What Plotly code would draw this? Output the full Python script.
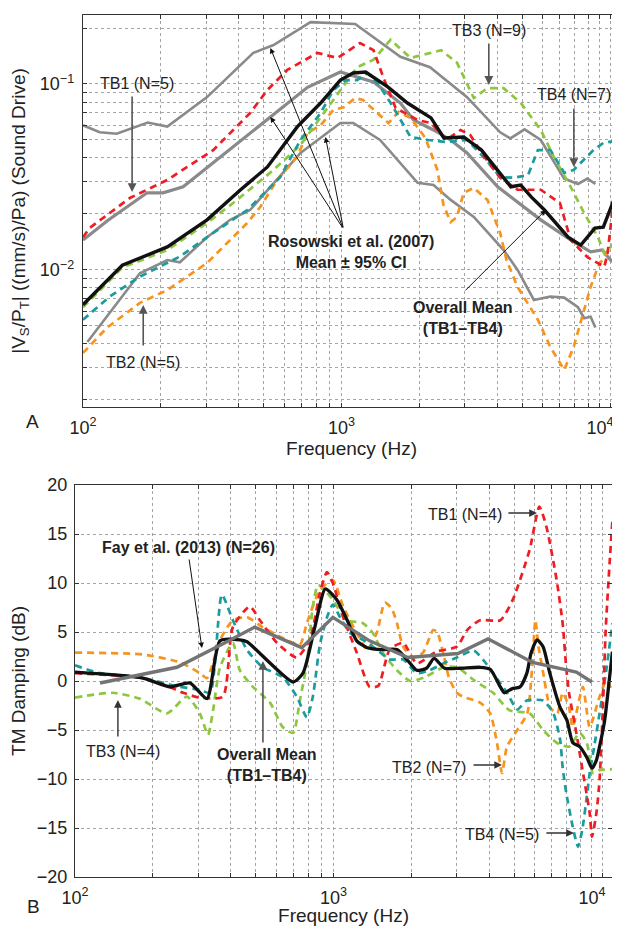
import plotly.graph_objects as go

# ---------------- Panel A : sound drive magnitude ----------------
ros_upper_f = [100, 116, 135, 178, 212, 302, 456, 546, 759, 1130, 1690, 2200, 3060, 4110, 4500, 5110, 5900, 7270, 8220, 8950, 9600]
ros_upper_v = [0.060, 0.055, 0.054, 0.062, 0.059, 0.085, 0.147, 0.162, 0.215, 0.210, 0.140, 0.123, 0.085, 0.055, 0.051, 0.057, 0.050, 0.031, 0.029, 0.031, 0.029]

ros_mean_f = [100, 125, 177, 204, 244, 381, 546, 739, 990, 1330, 1690, 1900, 2270, 2645, 3060, 4020, 5900, 7700, 9200, 10200, 11000, 12000]
ros_mean_v = [0.0145, 0.0185, 0.026, 0.026, 0.028, 0.0458, 0.068, 0.096, 0.116, 0.1025, 0.079, 0.064, 0.0566, 0.050, 0.0426, 0.028, 0.0186, 0.0145, 0.0125, 0.0128, 0.0113, 0.0103]

ros_lower_f = [104, 166, 212, 237, 302, 371, 443, 694, 990, 1110, 1410, 1970, 2270, 2645, 3250, 4240, 4800, 5550, 6430, 7270, 8220, 8690, 9200, 9600]
ros_lower_v = [0.0041, 0.0096, 0.0113, 0.0110, 0.0150, 0.0186, 0.021, 0.0426, 0.0617, 0.0617, 0.050, 0.0294, 0.0286, 0.0238, 0.0193, 0.0128, 0.0100, 0.0069, 0.0072, 0.0071, 0.0063, 0.0055, 0.0056, 0.0049]

tb1_a_f = [100, 106, 152, 212, 319, 443, 517, 617, 808, 965, 1180, 1330, 1450, 1620, 1970, 2220, 2540, 2890, 3150, 3480, 4110, 4800, 5900, 7000, 7700, 8950, 10400, 10700, 11300, 12000]
tb1_a_v = [0.015, 0.0168, 0.0244, 0.0305, 0.0441, 0.0698, 0.0929, 0.119, 0.147, 0.138, 0.166, 0.152, 0.109, 0.0743, 0.064, 0.0617, 0.050, 0.0566, 0.0532, 0.0426, 0.0313, 0.027, 0.027, 0.0229, 0.0145, 0.0117, 0.0104, 0.0123, 0.0238, 0.0458]

tb2_a_f = [100, 124, 166, 212, 302, 432, 485, 564, 674, 739, 830, 930, 1020, 1130, 1210, 1360, 1520, 1660, 1850, 2110, 2350, 2480, 2645, 2800, 2970, 3250, 3670, 4110, 4350, 4800, 5750, 6430, 7270, 7910, 8430, 9200, 9820, 11000, 12000]
tb2_a_v = [0.00358, 0.0049, 0.00665, 0.0078, 0.0109, 0.0179, 0.0218, 0.0305, 0.0406, 0.0546, 0.060, 0.0725, 0.075, 0.084, 0.082, 0.0707, 0.0617, 0.0707, 0.0657, 0.0513, 0.0345, 0.0224, 0.0181, 0.0193, 0.026, 0.0276, 0.0238, 0.0158, 0.0113, 0.0081, 0.0054, 0.00385, 0.0029, 0.00385, 0.0052, 0.0081, 0.0104, 0.0133, 0.014]

tb3_a_f = [100, 142, 212, 302, 381, 546, 694, 930, 1060, 1150, 1330, 1550, 1850, 2430, 2800, 3250, 3670, 4240, 4940, 5900, 6630, 7700, 8690, 9820, 10400, 11000, 12000]
tb3_a_v = [0.0063, 0.0103, 0.0128, 0.0179, 0.0229, 0.0345, 0.047, 0.082, 0.105, 0.123, 0.135, 0.173, 0.138, 0.152, 0.130, 0.084, 0.095, 0.095, 0.079, 0.0566, 0.0406, 0.028, 0.0202, 0.015, 0.0123, 0.0133, 0.0158]

tb4_a_f = [100, 127, 166, 237, 310, 432, 580, 694, 830, 930, 1040, 1150, 1260, 1380, 1550, 1690, 1850, 2160, 2540, 3060, 3540, 4110, 4650, 5270, 5750, 6430, 7270, 7910, 9440, 10300, 12000]
tb4_a_v = [0.0054, 0.0072, 0.0092, 0.0118, 0.0154, 0.021, 0.0316, 0.050, 0.0698, 0.0929, 0.105, 0.105, 0.1146, 0.101, 0.079, 0.064, 0.0519, 0.050, 0.0488, 0.050, 0.0406, 0.0316, 0.0313, 0.0324, 0.0441, 0.0441, 0.0333, 0.0345, 0.0441, 0.0482, 0.050]

mean_a_f = [100, 142, 212, 302, 406, 517, 674, 830, 990, 1110, 1240, 1510, 1800, 2220, 2490, 2970, 3480, 4020, 4520, 4940, 5420, 6100, 7530, 8430, 9560, 10300, 12000]
mean_a_v = [0.0065, 0.0106, 0.0133, 0.0186, 0.0269, 0.0358, 0.0588, 0.079, 0.105, 0.1146, 0.116, 0.0964, 0.079, 0.0657, 0.0513, 0.0519, 0.0441, 0.0345, 0.028, 0.0286, 0.0247, 0.021, 0.015, 0.0136, 0.0168, 0.017, 0.0294]

# ---------------- Panel B : TM damping ----------------
fay_f = [125, 248, 387, 496, 754, 995, 1380, 1940, 3030, 3960, 5890, 8700, 10000]
fay_v = [-0.2, 1.4, 4.0, 5.5, 3.4, 6.5, 4.1, 2.4, 2.8, 4.3, 1.9, 0.9, -0.1]

mean_b_f = [100, 183, 233, 278, 324, 364, 434, 463, 697, 762, 847, 930, 1030, 1130, 1230, 1350, 1550, 1760, 1980, 2100, 2290, 2450, 2690, 3080, 3690, 4040, 4420, 4580, 4900, 5270, 5600, 5820, 6130, 6470, 6870, 7530, 8000, 8430, 8960, 9550, 10000, 10400, 10700, 11200, 11700, 12000]
mean_b_v = [0.9, 0.3, -0.6, -0.2, -1.8, 4.1, 4.2, 4.0, -0.1, 0.8, 5.5, 9.4, 8.3, 6.2, 4.1, 3.4, 3.2, 3.2, 1.8, 1.1, 1.3, 2.3, 1.3, 1.3, 1.4, 1.2, -0.6, -1.2, -0.8, -0.6, 0.8, 2.9, 4.2, 3.5, 0.8, -2.7, -4.0, -6.3, -6.7, -7.8, -8.9, -8.1, -6.7, -4.0, 0.4, 3.0]

tb1_b_f = [100, 183, 227, 262, 304, 373, 408, 475, 519, 604, 721, 810, 886, 944, 994, 1090, 1230, 1380, 1490, 1650, 1860, 2100, 2500, 3000, 3290, 3690, 4420, 4940, 5740, 6260, 6670, 7300, 7700, 7950, 8150, 8700, 9100, 9800, 10000, 10400, 10700, 11000, 11300, 11700, 12000]
tb1_b_v = [0.8, 0.3, -0.5, -1.2, -1.7, -1.6, 5.5, 7.6, 6.2, 3.9, 2.4, 4.2, 9.0, 11.1, 10.0, 6.5, 2.9, -0.6, -0.5, 3.2, 3.9, 1.8, 3.0, 3.5, 5.2, 6.2, 6.2, 8.3, 13.4, 17.8, 15.7, 10.3, 5.9, 1.4, -1.2, -5.3, -8.4, -13.5, -15.9, -13.5, -10.1, -3.3, 5.2, 12.0, 16.4]

tb2_b_f = [100, 183, 255, 304, 324, 364, 408, 463, 532, 636, 741, 789, 886, 994, 1090, 1230, 1350, 1470, 1580, 1680, 1760, 1860, 2030, 2220, 2430, 2520, 2670, 2800, 3000, 3170, 3690, 4040, 4290, 4490, 4690, 5140, 5620, 5870, 6040, 6210, 6480, 6890, 7340, 7700, 8150, 8420, 9220, 9800, 10700, 11400, 12000]
tb2_b_v = [2.9, 2.7, 1.9, 0.8, 0.3, 4.2, 6.2, 6.5, 5.5, 4.4, 3.7, 5.9, 9.3, 10.3, 7.6, 4.9, 3.2, 4.9, 8.0, 7.4, 5.9, 3.5, 2.4, 2.9, 5.2, 5.0, 2.6, 0.3, -1.2, -1.6, -2.2, -3.3, -6.3, -9.4, -6.7, -5.0, -3.3, 1.4, 6.2, 3.5, 0.8, -2.7, -3.3, -1.2, -2.7, -4.7, -0.6, -4.7, -1.6, 0.1, -1.2]

tb3_b_f = [100, 140, 178, 227, 271, 304, 327, 342, 364, 408, 434, 488, 568, 636, 698, 741, 789, 832, 872, 973, 1130, 1300, 1420, 1550, 1760, 1980, 2260, 2670, 3000, 3490, 4140, 4800, 5740, 6470, 7300, 8150, 8960, 9550, 10100, 10700, 12000]
tb3_b_v = [-1.7, -1.2, -1.8, -3.3, -1.6, -3.3, -5.5, -3.0, 1.4, 3.9, 1.1, -0.6, -2.2, -4.7, -5.3, -2.0, 1.8, 7.6, 9.8, 8.6, 6.2, 5.9, 4.9, 2.9, 1.1, 0.0, 0.4, 1.4, 1.4, 0.1, -1.2, -3.0, -3.3, -5.0, -6.3, -6.7, -5.3, -6.3, -9.4, -9.1, -9.0]

tb4_b_f = [100, 125, 178, 244, 304, 333, 370, 408, 462, 532, 636, 721, 789, 832, 886, 944, 994, 1060, 1160, 1300, 1470, 1650, 1860, 2100, 2360, 2660, 3000, 3490, 3810, 4330, 4690, 5140, 5600, 6480, 7090, 7530, 7700, 7950, 8430, 8830, 9170, 9550, 9800, 10200, 10700, 11400, 12000]
tb4_b_v = [1.6, 0.8, 0.4, -0.5, -0.9, -1.2, 8.8, 6.2, 3.2, 1.4, 0.4, -1.6, -3.7, -1.6, 3.7, 6.5, 7.8, 6.5, 4.9, 4.2, 3.2, 2.2, 2.2, 0.8, 1.1, 1.8, 2.4, 3.1, 2.1, 0.1, -1.2, -2.9, -2.0, -2.0, -3.3, -6.0, -8.8, -11.4, -14.9, -16.9, -15.2, -11.8, -9.4, -6.7, -3.3, 1.4, 5.9]

# tick positions / labels
freq_ticks = [100 * k for k in range(1, 10)] + [1000 * k for k in range(1, 10)] + [10000, 11000]
freq_labels = {100: "10<sup>2</sup>", 1000: "10<sup>3</sup>", 10000: "10<sup>4</sup>"}
mag_ticks = [0.001 * k for k in range(2, 10)] + [0.01 * k for k in range(1, 10)] + [0.1, 0.2]
mag_labels = {0.01: "10<sup>\u22122</sup>", 0.1: "10<sup>\u22121</sup>"}
db_ticks = [-20, -15, -10, -5, 0, 5, 10, 15, 20]

RED = "#EE1D24"
ORANGE = "#F7941D"
GREEN = "#8DC63F"
TEAL = "#1A9C9C"
GRAY = "#8A8A8A"
DASH = "7px,5px"

# The page body adds an 8px margin, so the figure is drawn 8px in from the
# top-left of the window; layout geometry below is expressed in window pixels.
OFF = 8
W, H = 620 - OFF, 926 - OFF


def dx(px):
    return (px - OFF) / W


def dy(py):
    return 1 - (py - OFF) / H


fig = go.Figure()


def add(f, v, color, width, dash, xa, ya, shape="linear"):
    fig.add_trace(go.Scatter(
        x=f, y=v, mode="lines", xaxis=xa, yaxis=ya, showlegend=False,
        hoverinfo="skip",
        line=dict(color=color, width=width, dash=dash, shape=shape,
                  smoothing=0.6 if shape == "spline" else None)))


# Panel A
add(ros_upper_f, ros_upper_v, GRAY, 2.6, "solid", "x", "y")
add(ros_mean_f, ros_mean_v, GRAY, 3.2, "solid", "x", "y")
add(ros_lower_f, ros_lower_v, GRAY, 2.6, "solid", "x", "y")
add(tb2_a_f, tb2_a_v, ORANGE, 2.7, DASH, "x", "y")
add(tb3_a_f, tb3_a_v, GREEN, 2.7, DASH, "x", "y")
add(tb4_a_f, tb4_a_v, TEAL, 2.7, DASH, "x", "y")
add(tb1_a_f, tb1_a_v, RED, 2.7, DASH, "x", "y")
add(mean_a_f, mean_a_v, "#111111", 3.4, "solid", "x", "y")

# Panel B
add(tb2_b_f, tb2_b_v, ORANGE, 2.7, DASH, "x2", "y2", "spline")
add(tb3_b_f, tb3_b_v, GREEN, 2.7, DASH, "x2", "y2", "spline")
add(tb4_b_f, tb4_b_v, TEAL, 2.7, DASH, "x2", "y2", "spline")
add(tb1_b_f, tb1_b_v, RED, 2.7, DASH, "x2", "y2", "spline")
add(mean_b_f, mean_b_v, "#111111", 3.3, "solid", "x2", "y2", "spline")
add(fay_f, fay_v, "#747474", 3.4, "solid", "x2", "y2")

axis_common = dict(
    showline=True, linecolor="#333333", linewidth=1.4, mirror="ticks",
    ticks="inside", ticklen=4, tickcolor="#333333", tickwidth=1,
    showgrid=True, gridcolor="#a5a5a5", griddash="dot", gridwidth=1,
    zeroline=False, automargin=False, ticklabeloverflow="allow",
    tickfont=dict(size=18, color="#222222"),
)

fig.update_layout(
    template="none",
    width=W, height=H, autosize=False,
    margin=dict(l=0, r=0, t=0, b=0),
    plot_bgcolor="white", paper_bgcolor="white",
    font=dict(family="Liberation Sans, Arial, Helvetica, sans-serif", color="#222222"),
    xaxis=dict(domain=[dx(83), 1.0], type="log", range=[2, 4.0775], anchor="y",
               tickvals=freq_ticks, ticktext=[freq_labels.get(t, "") for t in freq_ticks],
               ticklabelstandoff=4,
               title=dict(text="Frequency (Hz)", font=dict(size=19), standoff=1),
               **axis_common),
    yaxis=dict(domain=[dy(407), dy(15)], type="log", range=[-2.737, -0.629], anchor="x",
               tickvals=mag_ticks, ticktext=[mag_labels.get(round(t, 4), "") for t in mag_ticks],
               ticklabelstandoff=4,
               title=dict(text="|V<sub>S</sub>/P<sub>T</sub>| ((mm/s)/Pa) (Sound Drive)",
                          font=dict(size=19), standoff=10),
               **axis_common),
    xaxis2=dict(domain=[dx(75), dx(612)], type="log", range=[2, 4.0775], anchor="y2",
                tickvals=freq_ticks, ticktext=[freq_labels.get(t, "") for t in freq_ticks],
                ticklabelstandoff=4,
                title=dict(text="Frequency (Hz)", font=dict(size=19), standoff=4),
                **axis_common),
    yaxis2=dict(domain=[dy(877), dy(485)], range=[-20, 20], anchor="x2",
                tickvals=db_ticks, ticklabelstandoff=3,
                title=dict(text="TM Damping (dB)", font=dict(size=19), standoff=6),
                **axis_common),
)

ann = []
NORMAL = dict(size=16, color="#222222")
BOLD = dict(size=16, color="#222222")


def label(xr, yr, text, xs="x", ys="y", font=NORMAL, xanchor="center"):
    ann.append(dict(x=xr, y=yr, xref=xs, yref=ys, text=text, showarrow=False,
                    font=font, xanchor=xanchor, yanchor="middle", align="center"))


def arrow(xr, yr, ax, ay, xs="x", ys="y", color="#333333", width=1.3):
    ann.append(dict(x=xr, y=yr, xref=xs, yref=ys, text="", showarrow=True,
                    ax=ax, ay=ay, arrowhead=2, arrowsize=1.1, arrowwidth=width,
                    arrowcolor=color, standoff=0, startstandoff=0))


# Panel A labels (coordinates in log10 units on log axes)
label(2.209, -1.0, "TB1 (N=5)")
arrow(2.190, -1.581, 0, -97, color="#555555", width=1.6)
label(3.570, -0.710, "TB3 (N=9)")
arrow(3.570, -1.005, 0, -43, color="#555555", width=1.6)
label(3.899, -1.059, "TB4 (N=7)")
arrow(3.899, -1.446, 0, -60, color="#555555", width=1.6)
label(2.233, -2.495, "TB2 (N=5)")
arrow(2.233, -2.188, 0, 42, color="#555555", width=1.6)
label(3.035, -1.903, "<b>Rosowski et al. (2007)</b><br><b>Mean \u00b1 95% CI</b>", font=BOLD)
arrow(2.725, -0.806, 73, 181, color="#111111", width=1.0)
arrow(2.725, -1.177, 73, 112, color="#111111", width=1.0)
arrow(2.938, -1.285, 18, 92, color="#111111", width=1.0)
label(3.469, -2.258, "<b>Overall Mean</b><br><b>(TB1\u2013TB4)</b>", font=BOLD)
arrow(3.791, -1.677, -82, 82, color="#111111", width=1.0)

# Panel B labels
label(2.441, 13.67, "<b>Fay et al. (2013) (N=26)</b>", "x2", "y2", font=BOLD)
arrow(2.491, 3.37, -13, -90, "x2", "y2", color="#111111", width=1.0)
label(2.743, -8.57, "<b>Overall Mean</b><br><b>(TB1\u2013TB4)</b>", "x2", "y2", font=BOLD)
arrow(2.727, 2.04, 0, 83, "x2", "y2", color="#555555", width=1.6)
label(2.186, -7.24, "TB3 (N=4)", "x2", "y2")
arrow(2.166, -1.94, 0, 38, "x2", "y2", color="#333333", width=1.4)
label(3.509, 16.94, "TB1 (N=4)", "x2", "y2")
arrow(3.787, 17.14, -30, 0, "x2", "y2", color="#333333", width=1.4)
label(3.369, -8.78, "TB2 (N=7)", "x2", "y2")
arrow(3.652, -8.57, -30, 0, "x2", "y2", color="#333333", width=1.4)
label(3.652, -15.71, "TB4 (N=5)", "x2", "y2")
arrow(3.930, -15.51, -29, 0, "x2", "y2", color="#333333", width=1.4)

# panel letters
ann.append(dict(x=dx(32), y=dy(422), xref="paper", yref="paper", text="A",
                xanchor="center", yanchor="middle",
                showarrow=False, font=dict(size=19, color="#222222")))
ann.append(dict(x=dx(33), y=dy(906), xref="paper", yref="paper", text="B",
                xanchor="center", yanchor="middle",
                showarrow=False, font=dict(size=19, color="#222222")))

fig.update_layout(annotations=ann)
fig.write_html("out.html")
